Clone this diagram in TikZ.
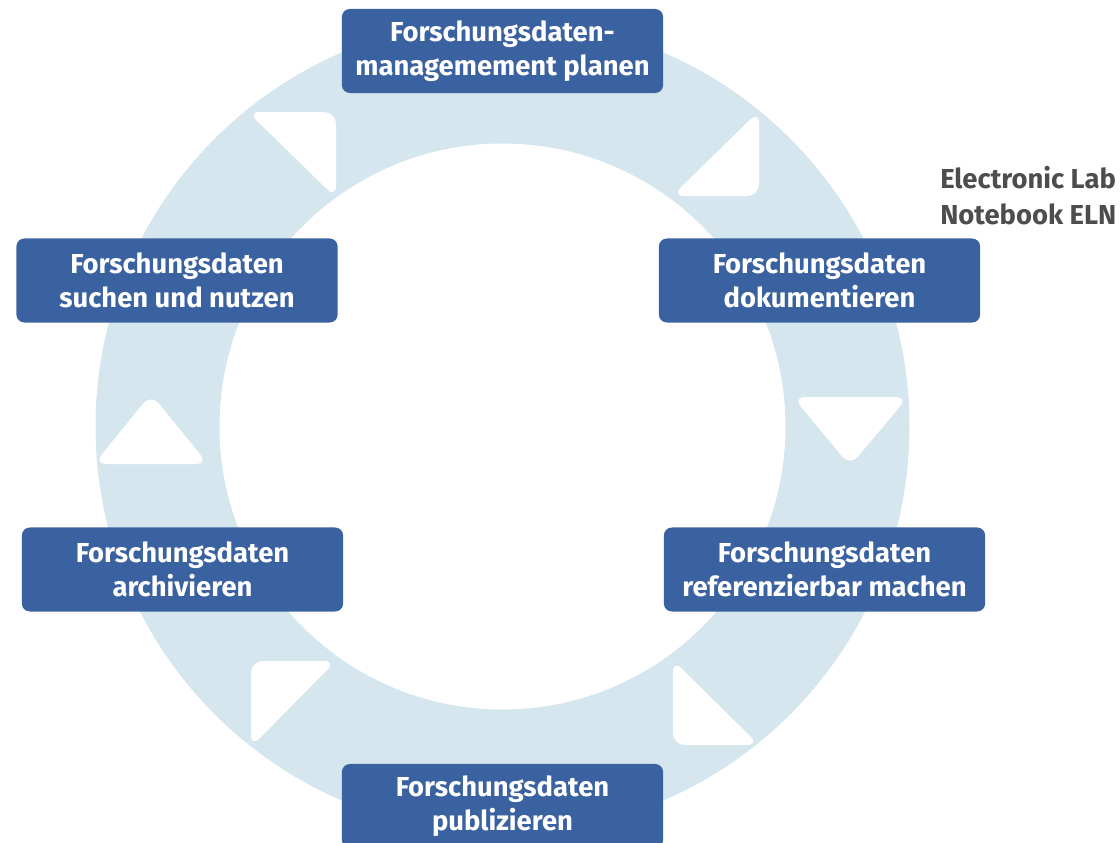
\documentclass[tikz,border=0pt]{standalone}
\usepackage{fontspec}
\setmainfont{Fira Sans}
\definecolor{boxblue}{HTML}{3B62A0}
\definecolor{ringblue}{HTML}{D6E6EF}
\definecolor{notegray}{HTML}{4D4D4D}
\begin{document}
\begin{tikzpicture}[x=0.025cm,y=-0.025cm,
  stepbox/.style={fill=boxblue,rounded corners=0.2cm,minimum width=8.03cm,minimum height=2.1cm,
    text=white,align=center,font=\fontsize{19.5}{24.5}\selectfont\bfseries,inner sep=0pt},
  gap/.style={fill=white,rounded corners=0.3cm}]
\useasboundingbox (0,0) rectangle (1120,843);
\coordinate (c) at (502.5,426.5);
% ring
\fill[ringblue,even odd rule] (c) circle[radius=407] (c) circle[radius=283];
% arrow gaps in the ring
\fill[gap] (248,112) -- (336,112) -- (336,198) -- cycle;
\fill[gap] (759,111) -- (759,196) -- (672,196) -- cycle;
\fill[gap] (793,397) -- (908,397) -- (850,466) -- cycle;
\fill[gap] (673,660) -- (759,745) -- (673,745) -- cycle;
\fill[gap] (251,661) -- (336,661) -- (251,747) -- cycle;
\fill[gap] (151,394) -- (208,464) -- (94,464) -- cycle;

\node[stepbox] (plan) at (502.5,51) {Forschungsdaten-\\managemement planen};
\node[stepbox] (doku) at (819.5,280.5) {Forschungsdaten\\dokumentieren};
\node[stepbox] (ref) at (824.5,569.5) {Forschungsdaten\\referenzierbar machen};
\node[stepbox] (publ) at (502.5,806) {Forschungsdaten\\publizieren};
\node[stepbox] (arch) at (182.5,569.5) {Forschungsdaten\\archivieren};
\node[stepbox] (such) at (177,280.5) {Forschungsdaten\\suchen und nutzen};

\node[anchor=west,align=left,text=notegray,inner sep=0pt,
  font=\fontsize{19.5}{25.5}\selectfont\bfseries] (eln) at (940,196) {Electronic Lab\\Notebook ELN};
\end{tikzpicture}
\end{document}
